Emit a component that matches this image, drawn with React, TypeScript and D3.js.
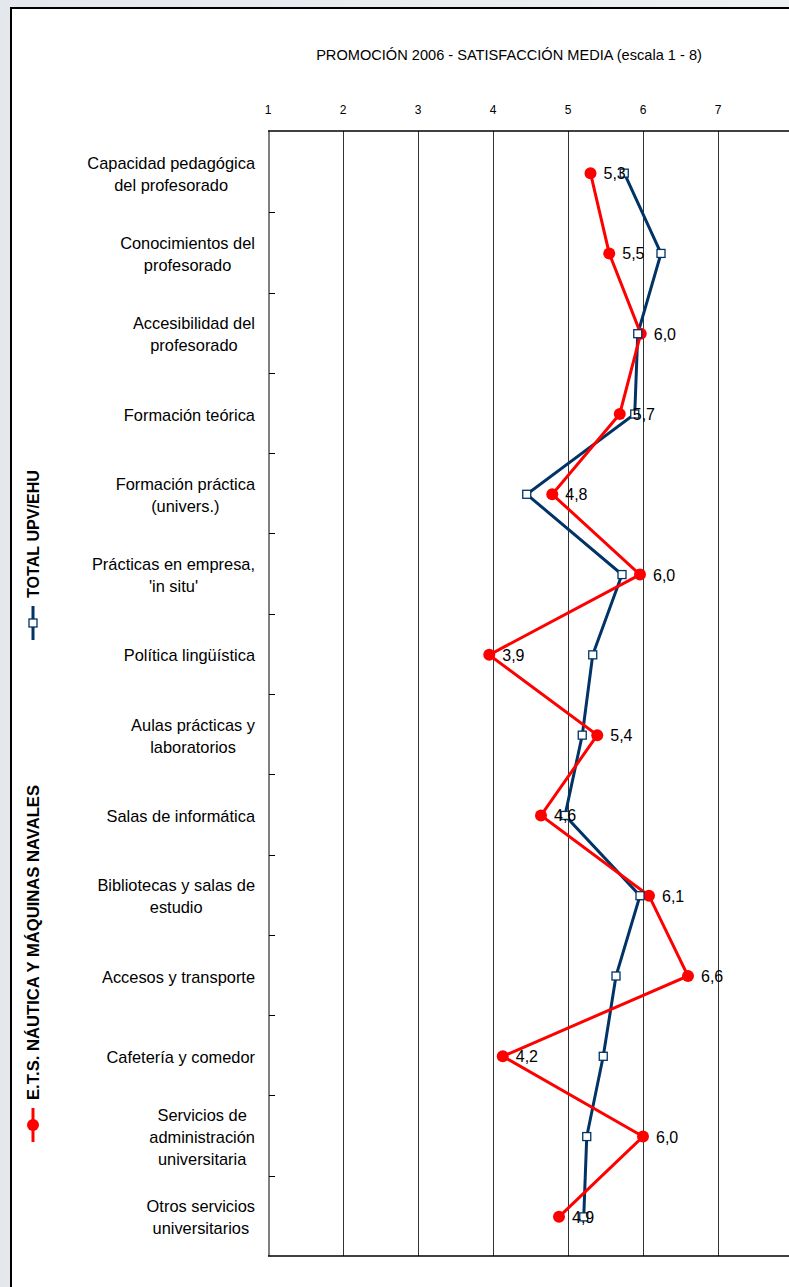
import React, { useEffect, useRef } from "react";
import * as d3 from "d3";

const categories: string[][] = [
  ["Capacidad pedagógica", "del profesorado"],
  ["Conocimientos del", "profesorado"],
  ["Accesibilidad del", "profesorado"],
  ["Formación teórica"],
  ["Formación práctica", "(univers.)"],
  ["Prácticas en empresa,", "'in situ'"],
  ["Política lingüística"],
  ["Aulas prácticas y", "laboratorios"],
  ["Salas de informática"],
  ["Bibliotecas y salas de", "estudio"],
  ["Accesos y transporte"],
  ["Cafetería y comedor"],
  ["Servicios de", "administración", "universitaria"],
  ["Otros servicios", "universitarios"],
];

const etsValues: number[] = [5.3, 5.55, 5.97, 5.69, 4.79, 5.96, 3.95, 5.39, 4.64, 6.08, 6.6, 4.13, 6.0, 4.88];
const etsLabels: string[] = ["5,3", "5,5", "6,0", "5,7", "4,8", "6,0", "3,9", "5,4", "4,6", "6,1", "6,6", "4,2", "6,0", "4,9"];
const totalValues: number[] = [5.75, 6.24, 5.93, 5.89, 4.45, 5.72, 5.33, 5.19, 4.96, 5.96, 5.64, 5.47, 5.25, 5.21];

const xTicks: number[] = [1, 2, 3, 4, 5, 6, 7];
const title = "PROMOCIÓN 2006 - SATISFACCIÓN MEDIA (escala 1 - 8)";
const seriesNames = ["TOTAL UPV/EHU", "E.T.S. NÁUTICA Y MÁQUINAS NAVALES"];

const W = 789;
const H = 1287;
const FONT = "'Liberation Sans', Arial, Helvetica, sans-serif";
const RED = "#ff0000";
const BLUE = "#003366";

export default function App() {
  const ref = useRef<SVGSVGElement>(null);

  useEffect(() => {
    const svg = d3.select(ref.current);
    svg.selectAll("*").remove();

    const defs = svg.append("defs");
    const grad = defs.append("linearGradient").attr("id", "bg").attr("x1", 0).attr("x2", 1).attr("y1", 0).attr("y2", 0);
    grad.append("stop").attr("offset", 0).attr("stop-color", "#e4e7ec");
    grad.append("stop").attr("offset", 1).attr("stop-color", "#eef0f3");

    svg.append("rect").attr("width", W).attr("height", H).attr("fill", "url(#bg)");
    svg.append("rect").attr("x", 11).attr("y", 8).attr("width", W + 20).attr("height", H + 20)
      .attr("fill", "#fff").attr("stroke", "#000").attr("stroke-width", 2);

    const x = d3.scaleLinear().domain([1, 8]).range([268, 793]);
    const y = d3.scaleBand().domain(categories.map((_, i) => String(i))).range([132, 1256]).paddingInner(0).paddingOuter(0);
    const cy = (i: number) => (y(String(i)) as number) + y.bandwidth() / 2 + 1;

    // title
    svg.append("text").attr("x", 509).attr("y", 60).attr("text-anchor", "middle")
      .attr("font-family", FONT).attr("font-size", 14.6).attr("fill", "#000").text(title);

    // gridlines
    const grid = svg.append("g");
    grid.selectAll("line").data(xTicks.slice(1)).join("line")
      .attr("x1", (d) => Math.round(x(d)) + 0.5).attr("x2", (d) => Math.round(x(d)) + 0.5)
      .attr("y1", 131).attr("y2", 1256).attr("stroke", "#333").attr("stroke-width", 1);

    // plot frame top/bottom/left
    svg.append("line").attr("x1", 268).attr("x2", W + 10).attr("y1", 131).attr("y2", 131).attr("stroke", "#000").attr("stroke-width", 1.5);
    svg.append("line").attr("x1", 268).attr("x2", W + 10).attr("y1", 1256).attr("y2", 1256).attr("stroke", "#000").attr("stroke-width", 1.5);
    svg.append("line").attr("x1", 269).attr("x2", 269).attr("y1", 131).attr("y2", 1256).attr("stroke", "#000").attr("stroke-width", 1);

    // top axis tick labels
    svg.append("g").selectAll("text").data(xTicks).join("text")
      .attr("x", (d) => x(d)).attr("y", 114).attr("text-anchor", "middle")
      .attr("font-family", FONT).attr("font-size", 12).text((d) => String(d));

    // category boundary ticks
    svg.append("g").selectAll("line").data(d3.range(1, categories.length)).join("line")
      .attr("x1", 269).attr("x2", 275)
      .attr("y1", (i) => Math.round(y(String(i)) as number) + 0.5)
      .attr("y2", (i) => Math.round(y(String(i)) as number) + 0.5)
      .attr("stroke", "#000").attr("stroke-width", 1);

    // category labels
    const lh = 22;
    const catG = svg.append("g");
    categories.forEach((lines, i) => {
      const g = catG.append("g");
      const n = lines.length;
      const texts = lines.map((ln, k) =>
        g.append("text").attr("x", 0).attr("y", cy(i) + (k - (n - 1) / 2) * lh + 6.5)
          .attr("text-anchor", "middle").attr("font-family", FONT).attr("font-size", 16.4).attr("fill", "#000").text(ln)
      );
      let maxW = 0;
      texts.forEach((t) => { const w = (t.node() as SVGTextElement).getComputedTextLength(); if (w > maxW) maxW = w; });
      g.attr("transform", `translate(${255 - maxW / 2},0)`);
    });

    // lines
    const line = d3.line<number>().x((d) => x(d)).y((_, i) => cy(i));
    svg.append("path").attr("d", line(totalValues)).attr("fill", "none").attr("stroke", BLUE).attr("stroke-width", 3).attr("stroke-linejoin", "miter");
    svg.append("path").attr("d", line(etsValues)).attr("fill", "none").attr("stroke", RED).attr("stroke-width", 3).attr("stroke-linejoin", "miter");

    // markers
    svg.append("g").selectAll("circle").data(etsValues).join("circle")
      .attr("cx", (d) => x(d)).attr("cy", (_, i) => cy(i)).attr("r", 6).attr("fill", RED);
    svg.append("g").selectAll("rect").data(totalValues).join("rect")
      .attr("x", (d) => x(d) - 4).attr("y", (_, i) => cy(i) - 4).attr("width", 8).attr("height", 8)
      .attr("fill", "#fff").attr("stroke", BLUE).attr("stroke-width", 1.3);

    // data labels
    svg.append("g").selectAll("text").data(etsValues).join("text")
      .attr("x", (d) => x(d) + 13).attr("y", (_, i) => cy(i) + 6)
      .attr("font-family", FONT).attr("font-size", 16).attr("fill", "#000")
      .text((_, i) => etsLabels[i]);

    // legend (rotated)
    const legend = (name: string, yStart: number, color: string, marker: "square" | "circle", len: number) => {
      const g = svg.append("g");
      g.append("line").attr("x1", 33).attr("x2", 33).attr("y1", yStart + 8).attr("y2", yStart + 42).attr("stroke", color).attr("stroke-width", 3);
      if (marker === "square") {
        g.append("rect").attr("x", 29).attr("y", yStart + 21).attr("width", 8).attr("height", 8).attr("fill", "#fff").attr("stroke", color).attr("stroke-width", 1.3);
      } else {
        g.append("circle").attr("cx", 33).attr("cy", yStart + 25).attr("r", 6).attr("fill", color);
      }
      g.append("text").attr("transform", `translate(39,${yStart}) rotate(-90)`)
        .attr("font-family", FONT).attr("font-size", 15.8).attr("font-weight", "bold").attr("fill", "#000")
        .attr("textLength", len).attr("lengthAdjust", "spacingAndGlyphs").text(name);
    };
    legend(seriesNames[0], 598, BLUE, "square", 128);
    legend(seriesNames[1], 1100, RED, "circle", 315);
  }, []);

  return (
    <svg ref={ref} width={W} height={H} style={{ position: "absolute", left: 0, top: 0, display: "block" }} />
  );
}
